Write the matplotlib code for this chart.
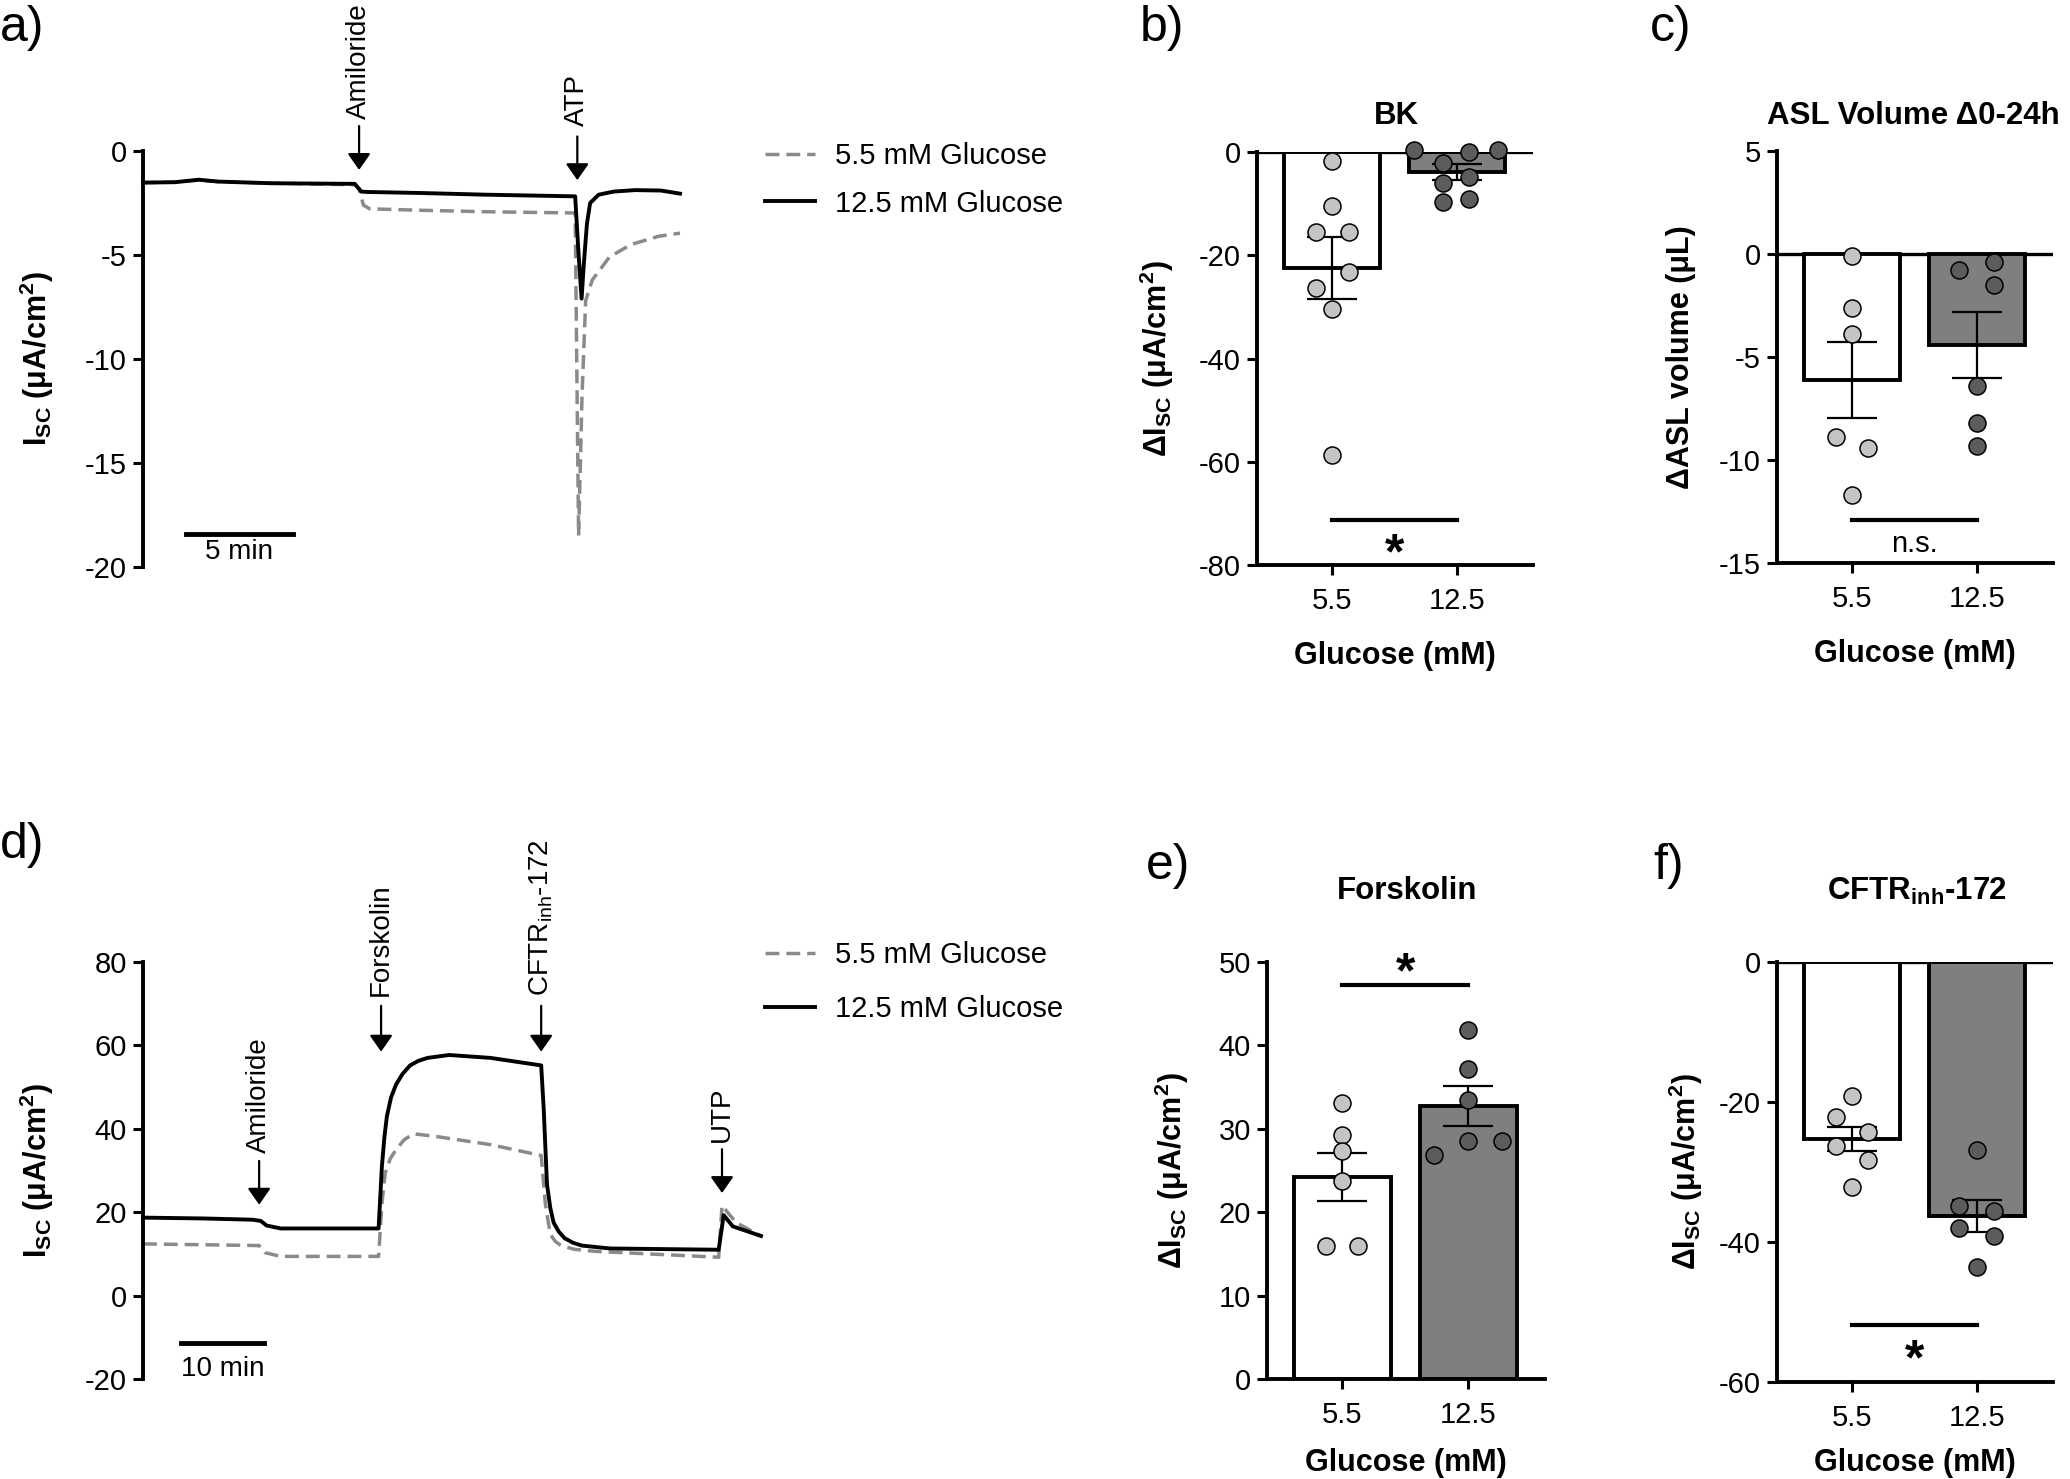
import matplotlib.pyplot as plt
from matplotlib.lines import Line2D

plt.rcParams['font.family'] = ['Liberation Sans', 'DejaVu Sans']
plt.rcParams['mathtext.fontset'] = 'custom'
plt.rcParams['mathtext.rm'] = 'Liberation Sans'
plt.rcParams['mathtext.it'] = 'Liberation Sans:italic'
plt.rcParams['mathtext.bf'] = 'Liberation Sans:bold'
plt.rcParams['axes.unicode_minus'] = False

W, H = 2070, 1479

# ---- traces (time in min, Isc in uA/cm2) ----
a_t_hi = [0, 1.5, 2.6, 3.5, 6, 9.9, 10.2, 10.5, 13, 16, 20.2, 20.35, 20.5, 20.6,
          20.75, 20.9, 21.3, 22.0, 23.0, 24.2, 25.1]
a_y_hi = [-1.52, -1.5, -1.38, -1.47, -1.55, -1.58, -1.95, -1.97, -2.02, -2.1, -2.18,
          -4.8, -7.1, -5.5, -3.5, -2.5, -2.1, -1.95, -1.88, -1.9, -2.05]
a_t_lo = [0, 1.5, 2.6, 3.5, 6, 9.9, 10.1, 10.3, 10.6, 13, 16, 20.2, 20.36, 20.52,
          20.69, 21.0, 21.8, 22.8, 24.1, 25.1]
a_y_lo = [-1.52, -1.5, -1.4, -1.47, -1.55, -1.62, -1.8, -2.6, -2.78, -2.85, -2.92,
          -2.98, -18.5, -11.8, -7.2, -6.2, -5.1, -4.5, -4.1, -3.95]

d_t_hi = [0, 7.3, 13.2, 14.2, 14.9, 16.6, 28.4, 28.8, 29.1, 29.4, 29.9, 30.5, 31.3,
          32.2, 33.2, 34.3, 36.9, 41.9, 48.0, 48.3, 48.7, 49.1, 49.5, 50.1, 50.8,
          51.8, 52.9, 56.3, 69.4, 70.0, 71.1, 74.5]
d_y_hi = [18.7, 18.5, 18.2, 17.9, 16.8, 16.1, 16.1, 31, 38, 43, 47.5, 50.6, 53.2,
          55.2, 56.3, 57, 57.7, 57.0, 55.2, 45, 26.7, 21.0, 17.5, 15.4, 13.8,
          12.7, 12.0, 11.3, 11.0, 19.3, 16.6, 14.3]
d_t_lo = [0, 14.0, 14.7, 16.6, 28.4, 28.8, 29.2, 29.8, 30.5, 31.5, 32.6, 35.2, 41.9,
          48.0, 48.5, 49.1, 49.7, 50.4, 52.0, 54.6, 69.4, 69.8, 71.5, 74.5]
d_y_lo = [12.4, 12.0, 10.3, 9.4, 9.4, 22, 29.4, 32.8, 35, 37.4, 38.8, 38.2, 36.2,
          33.6, 22, 14.7, 13.0, 12.0, 11.1, 10.6, 9.2, 21.6, 17.5, 14.3]

# ---- bar panels ----
groups = ['5.5', '12.5']

bk_mean = [-22.5, -3.9]
bk_sem = [6.0, 1.5]
bk_lo = [-1.7, -10.5, -15.5, -15.5, -23.3, -26.3, -30.4, -58.6]
bk_hi = [0.3, 0.0, 0.3, -2.2, -4.9, -6.1, -9.6, -9.2]

asl_mean = [-6.1, -4.43]
asl_sem = [1.85, 1.6]
asl_lo = [-0.1, -2.6, -3.9, -8.9, -9.4, -11.7]
asl_hi = [-0.8, -0.4, -1.5, -6.4, -8.2, -9.3]

fsk_mean = [24.2, 32.7]
fsk_sem = [2.9, 2.4]
fsk_lo = [33.1, 29.3, 27.3, 23.8, 15.9, 15.9]
fsk_hi = [41.9, 37.2, 33.4, 26.9, 28.5, 28.5]

cftr_mean = [-25.3, -36.3]
cftr_sem = [1.75, 2.25]
cftr_lo = [-19.1, -22.2, -24.3, -26.3, -28.3, -32.1]
cftr_hi = [-26.9, -34.9, -35.5, -38.0, -39.1, -43.6]

# horizontal jitter of the dots (layout only)
bk_jit_lo = [0, 0, -0.13, 0.14, 0.14, -0.13, 0, 0]
bk_jit_hi = [-0.34, 0.10, 0.33, -0.11, 0.10, -0.11, -0.11, 0.10]
asl_jit_lo = [0, 0, 0, -0.13, 0.13, 0]
asl_jit_hi = [-0.14, 0.14, 0.14, 0, 0, 0]
fsk_jit_lo = [0, 0, 0, 0, -0.13, 0.12]
fsk_jit_hi = [0, 0, 0, -0.27, 0, 0.27]
cftr_jit_lo = [0, -0.13, 0.13, -0.13, 0.13, 0]
cftr_jit_hi = [0, -0.14, 0.14, -0.14, 0.14, 0]

GREY_LINE = '#8a8a8a'
LIGHT = '#c4c4c4'
DARK = '#5c5c5c'
BAR2 = '#7f7f7f'
LW = 2.8


def px_axes(fig, l, t, r, b):
    return fig.add_axes([l / W, 1 - b / H, (r - l) / W, (b - t) / H])


def style_left(ax, ylim, yticks):
    ax.set_ylim(ylim)
    ax.set_yticks(yticks)
    for s in ['top', 'right']:
        ax.spines[s].set_visible(False)
    ax.spines['left'].set_linewidth(LW)
    ax.spines['bottom'].set_linewidth(LW)
    ax.tick_params(axis='both', direction='out', length=7.5, width=2.2,
                   labelsize=21, pad=4)
    ax.tick_params(axis='x', pad=8)


def trace_panel(ax, t_lo, y_lo, t_hi, y_hi, xlim, ylim, yticks, lab_x):
    style_left(ax, ylim, yticks)
    ax.spines['bottom'].set_visible(False)
    ax.set_xticks([])
    ax.set_xlim(xlim)
    ax.plot(t_lo, y_lo, color=GREY_LINE, lw=2.5, dashes=(4, 2), clip_on=False)
    ax.plot(t_hi, y_hi, color='k', lw=2.8, clip_on=False)
    ax.set_ylabel(r'I$_{\mathbf{SC}}$ (μA/cm$^{\mathbf{2}}$)', fontsize=22,
                  fontweight='bold')
    ax.yaxis.set_label_coords(lab_x, 0.5)


def mark(ax, t, tip, top, txt_y, label):
    ax.annotate('', xy=(t, tip), xytext=(t, top), annotation_clip=False,
                arrowprops=dict(arrowstyle='-|>,head_length=0.5,head_width=0.35',
                                color='k', lw=1.6, mutation_scale=20,
                                shrinkA=0, shrinkB=0))
    ax.text(t, txt_y, label, rotation=90, ha='center', va='bottom', fontsize=20,
            clip_on=False)


def bar_panel(ax, mean, sem, lo, hi, jit_lo, jit_hi, ylim, yticks, zero_line, xlab_y):
    style_left(ax, ylim, yticks)
    ax.set_xlim(-0.6, 1.61)
    ax.set_xticks([0, 1])
    ax.set_xticklabels(groups)
    ax.bar([0, 1], mean, width=0.77, color=['white', BAR2], edgecolor='k',
           linewidth=LW, zorder=2)
    ax.errorbar([0, 1], mean, yerr=sem, fmt='none', ecolor='k', elinewidth=1.6,
                capsize=18, capthick=1.6, zorder=3)
    ax.scatter([j for j in jit_lo], lo, s=150, color=LIGHT, edgecolor='k',
               linewidth=1.1, zorder=4, clip_on=False)
    ax.scatter([1 + j for j in jit_hi], hi, s=150, color=DARK, edgecolor='k',
               linewidth=1.1, zorder=4, clip_on=False)
    if zero_line:
        ax.axhline(0, color='k', lw=2.4, zorder=1)
    ax.set_xlabel('Glucose (mM)', fontsize=22, fontweight='bold')
    ax.xaxis.set_label_coords(0.5, xlab_y)


def sig(ax, y_bar, y_txt, txt):
    ax.plot([0, 1], [y_bar, y_bar], color='k', lw=3, clip_on=False)
    if txt == '*':
        ax.annotate('*', xy=(0.5, y_txt), xytext=(0, -16), textcoords='offset points',
                    ha='center', va='baseline', fontsize=36, fontweight='bold',
                    annotation_clip=False)
    else:
        ax.text(0.5, y_txt, txt, ha='center', va='center', fontsize=21)


DI_LABEL = r'Δ$\mathbf{I}_{\mathbf{SC}}$ (μA/cm$^{\mathbf{2}}$)'

fig = plt.figure(figsize=(W / 100, H / 100), dpi=100)

# a) BK trace
ax_a = px_axes(fig, 143, 151, 680, 567)
trace_panel(ax_a, a_t_lo, a_y_lo, a_t_hi, a_y_hi, (0, 25.1), (-20, 0),
            [0, -5, -10, -15, -20], -0.162)
mark(ax_a, 10.1, -0.91, 1.2, 1.56, 'Amiloride')
mark(ax_a, 20.3, -1.4, 0.7, 1.18, 'ATP')
ax_a.plot([2.0, 7.0], [-18.4, -18.4], color='k', lw=3.5)
ax_a.text(4.5, -19.3, '5 min', ha='center', va='center', fontsize=20)
ax_a.legend([Line2D([], [], color=GREY_LINE, lw=2.5, dashes=(4, 2)),
             Line2D([], [], color='k', lw=2.8)],
            ['5.5 mM Glucose', '12.5 mM Glucose'], loc='upper left',
            bbox_to_anchor=(765 / W, 1 - 142 / H), bbox_transform=fig.transFigure,
            frameon=False, fontsize=21, handlelength=1.7, handletextpad=0.7,
            labelspacing=0.67, borderpad=0, borderaxespad=0)

# b) BK bars
ax_b = px_axes(fig, 1257, 152, 1533, 565)
bar_panel(ax_b, bk_mean, bk_sem, bk_lo, bk_hi, bk_jit_lo, bk_jit_hi, (-80, 0),
          [0, -20, -40, -60, -80], True, -0.184)
ax_b.set_ylabel(DI_LABEL, fontsize=22, fontweight='bold')
ax_b.yaxis.set_label_coords(-0.293, 0.5)
sig(ax_b, -71.3, -76.3, '*')

# c) ASL volume
ax_c = px_axes(fig, 1777, 151, 2053, 563)
bar_panel(ax_c, asl_mean, asl_sem, asl_lo, asl_hi, asl_jit_lo, asl_jit_hi, (-15, 5),
          [5, 0, -5, -10, -15], True, -0.184)
ax_c.set_ylabel('ΔASL volume (μL)', fontsize=22, fontweight='bold')
ax_c.yaxis.set_label_coords(-0.293, 0.5)
sig(ax_c, -12.9, -14.1, 'n.s.')

# d) forskolin trace
ax_d = px_axes(fig, 143, 962, 761, 1379)
trace_panel(ax_d, d_t_lo, d_y_lo, d_t_hi, d_y_hi, (0, 74.5), (-20, 80),
            [80, 60, 40, 20, 0, -20], -0.141)
mark(ax_d, 14.0, 21.8, 32.3, 34.2, 'Amiloride')
mark(ax_d, 28.7, 58.5, 69.5, 71.8, 'Forskolin')
mark(ax_d, 48.0, 58.5, 69.5, 71.8, r'CFTR$_{\mathrm{inh}}$-172')
mark(ax_d, 69.8, 24.6, 35.1, 36.9, 'UTP')
ax_d.plot([4.6, 14.6], [-11.3, -11.3], color='k', lw=3.5)
ax_d.text(9.6, -17.6, '10 min', ha='center', va='center', fontsize=20)
ax_d.legend([Line2D([], [], color=GREY_LINE, lw=2.5, dashes=(4, 2)),
             Line2D([], [], color='k', lw=2.8)],
            ['5.5 mM Glucose', '12.5 mM Glucose'], loc='upper left',
            bbox_to_anchor=(765 / W, 1 - 941 / H), bbox_transform=fig.transFigure,
            frameon=False, fontsize=21, handlelength=1.7, handletextpad=0.7,
            labelspacing=0.89, borderpad=0, borderaxespad=0)

# e) forskolin bars
ax_e = px_axes(fig, 1267, 962, 1545, 1379)
bar_panel(ax_e, fsk_mean, fsk_sem, fsk_lo, fsk_hi, fsk_jit_lo, fsk_jit_hi, (0, 50),
          [0, 10, 20, 30, 40, 50], False, -0.165)
ax_e.set_ylabel(DI_LABEL, fontsize=22, fontweight='bold')
ax_e.yaxis.set_label_coords(-0.273, 0.5)
sig(ax_e, 47.2, 49.6, '*')

# f) CFTRinh-172 bars
ax_f = px_axes(fig, 1777, 962, 2053, 1382)
bar_panel(ax_f, cftr_mean, cftr_sem, cftr_lo, cftr_hi, cftr_jit_lo, cftr_jit_hi,
          (-60, 0), [0, -20, -40, -60], True, -0.158)
ax_f.set_ylabel(DI_LABEL, fontsize=22, fontweight='bold')
ax_f.yaxis.set_label_coords(-0.26, 0.5)
sig(ax_f, -51.9, -55.8, '*')


# titles and panel letters
def ftext(x, y, s, **kw):
    fig.text(x / W, 1 - y / H, s, **kw)


ftext(1396, 116, 'BK', ha='center', va='center', fontsize=22.5, fontweight='bold')
ftext(1913, 116, 'ASL Volume Δ0-24h', ha='center', va='center', fontsize=22.5,
      fontweight='bold')
ftext(1407, 891, 'Forskolin', ha='center', va='center', fontsize=22.5,
      fontweight='bold')
ftext(1917, 891, r'CFTR$_{\mathbf{inh}}$-172', ha='center', va='center',
      fontsize=22.5, fontweight='bold')

for lx, ly, s in [(0, 28, 'a)'), (1140, 28, 'b)'), (1650, 28, 'c)'),
                  (0, 845, 'd)'), (1146, 866, 'e)'), (1653, 866, 'f)')]:
    ftext(lx, ly, s, ha='left', va='center', fontsize=36)

fig.savefig('out.png', dpi=100)
